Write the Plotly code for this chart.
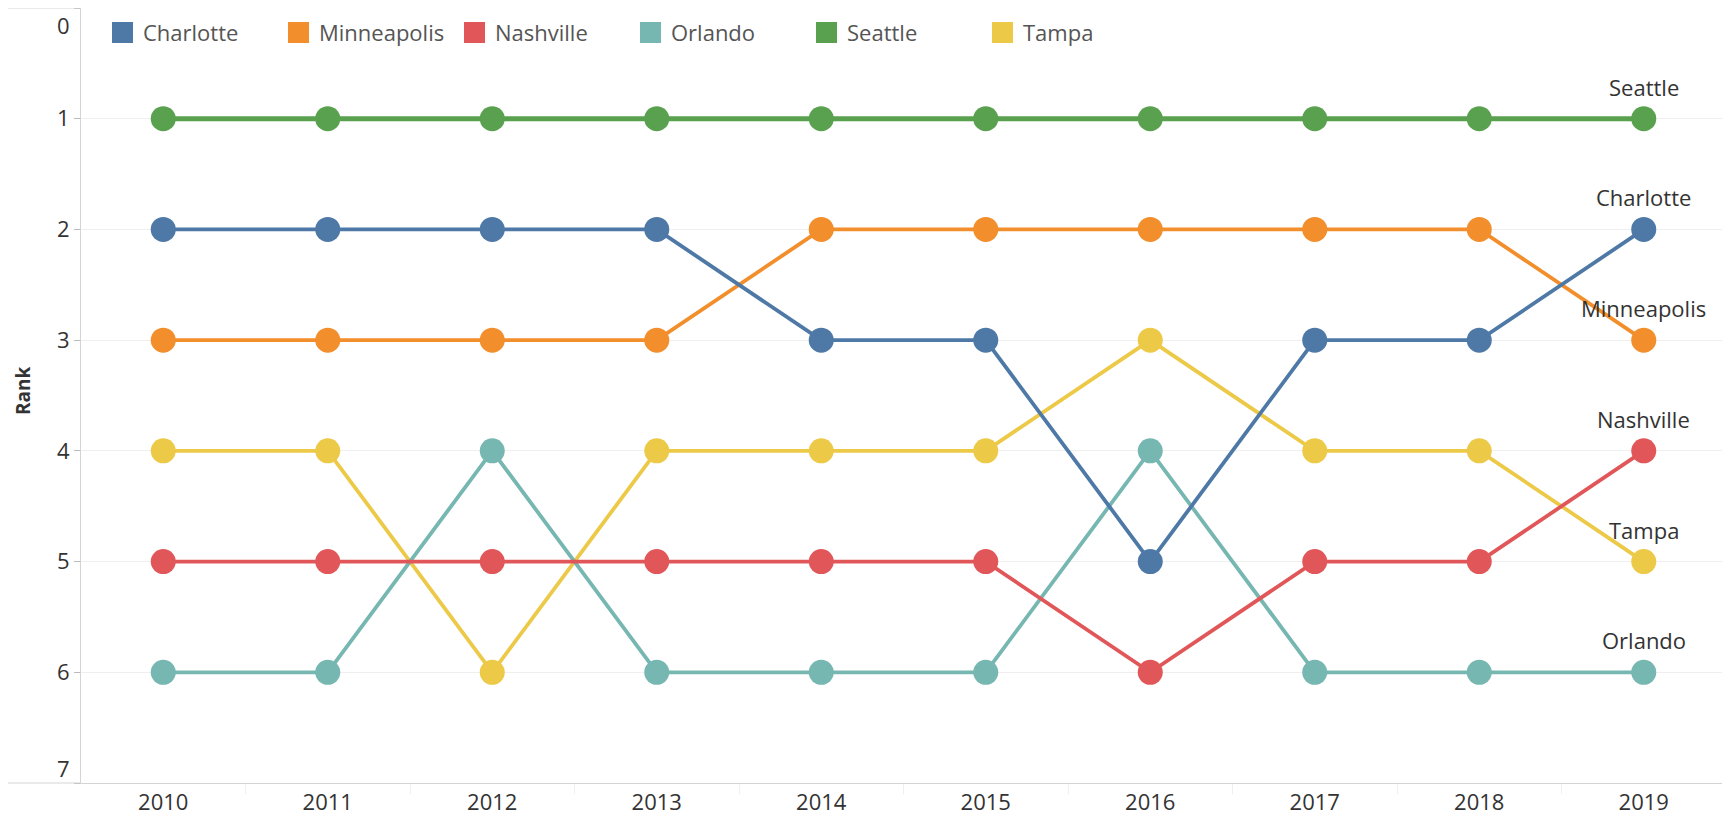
import plotly.graph_objects as go

years = [2010, 2011, 2012, 2013, 2014, 2015, 2016, 2017, 2018, 2019]
cities = ["Charlotte", "Minneapolis", "Nashville", "Orlando", "Seattle", "Tampa"]
charlotte = [2, 2, 2, 2, 3, 3, 5, 3, 3, 2]
minneapolis = [3, 3, 3, 3, 2, 2, 2, 2, 2, 3]
nashville = [5, 5, 5, 5, 5, 5, 6, 5, 5, 4]
orlando = [6, 6, 4, 6, 6, 6, 4, 6, 6, 6]
seattle = [1, 1, 1, 1, 1, 1, 1, 1, 1, 1]
tampa = [4, 4, 6, 4, 4, 4, 3, 4, 4, 5]
rank_ticks = [0, 1, 2, 3, 4, 5, 6, 7]

series = {
    "Charlotte": charlotte,
    "Minneapolis": minneapolis,
    "Nashville": nashville,
    "Orlando": orlando,
    "Seattle": seattle,
    "Tampa": tampa,
}
colors = {
    "Charlotte": "#4e79a7",
    "Minneapolis": "#f28e2b",
    "Nashville": "#e15759",
    "Orlando": "#76b7b2",
    "Seattle": "#59a14f",
    "Tampa": "#edc948",
}
draw_order = ["Tampa", "Seattle", "Orlando", "Minneapolis", "Nashville", "Charlotte"]
FONT = "Open Sans"
TXT = "#333333"
FS = 22

# figure geometry (page has an 8px body margin)
W, H = 1730, 814
ML, MR, MT, MB = 73, 12, 0, 39
PW, PH = W - ML - MR, H - MT - MB
OFF = 8


def px_x(page_x):
    return (page_x - OFF - ML) / PW


def px_y(page_y):
    return 1 - (page_y - OFF - MT) / PH


fig = go.Figure()
for c in draw_order:
    fig.add_trace(go.Scatter(
        x=years, y=series[c], mode="lines+markers", name=c, showlegend=False,
        line=dict(color=colors[c], width=5 if c == "Seattle" else 3.8),
        marker=dict(color=colors[c], size=25),
        hovertemplate=c + "<br>%{x}: rank %{y}<extra></extra>",
    ))

annotations = []
shapes = []
for c in cities:
    annotations.append(dict(
        x=years[-1], y=series[c][-1], xref="x", yref="y", text=c,
        showarrow=False, yshift=32, font=dict(family=FONT, size=FS, color=TXT),
    ))

# color legend (Tableau-style row of square swatches)
for i, c in enumerate(cities):
    left = 112 + 176 * i
    shapes.append(dict(type="rect", xref="paper", yref="paper",
                       x0=px_x(left), x1=px_x(left + 21), y0=px_y(43), y1=px_y(22),
                       fillcolor=colors[c], line=dict(width=0)))
    annotations.append(dict(x=px_x(left + 29), y=px_y(32), xref="paper", yref="paper",
                            text=c, showarrow=False, xanchor="left", yanchor="middle",
                            font=dict(family=FONT, size=FS, color="#555555")))

# edge tick labels (Tableau nudges them inside the frame)
annotations.append(dict(x=0, y=0.15, xref="paper", yref="y", text="0", showarrow=False,
                        xanchor="right", xshift=-9, font=dict(family=FONT, size=FS, color=TXT)))
annotations.append(dict(x=0, y=6.86, xref="paper", yref="y", text="7", showarrow=False,
                        xanchor="right", xshift=-9, font=dict(family=FONT, size=FS, color=TXT)))
annotations.append(dict(x=px_x(23), y=px_y(391), xref="paper", yref="paper", text="<b>Rank</b>",
                        showarrow=False, textangle=-90, xanchor="center", yanchor="middle",
                        font=dict(family=FONT, size=19, color=TXT)))

# frame lines extending into the label area
shapes.append(dict(type="line", xref="paper", yref="paper", x0=px_x(8), x1=0, y0=0, y1=0,
                   line=dict(color="#d4d4d4", width=1)))
shapes.append(dict(type="line", xref="paper", yref="paper", x0=px_x(8), x1=0, y0=1, y1=1,
                   line=dict(color="#d4d4d4", width=1)))

fig.update_layout(
    width=W, height=H,
    margin=dict(l=ML, r=MR, t=MT, b=MB),
    paper_bgcolor="white", plot_bgcolor="white",
    font=dict(family=FONT, size=FS, color=TXT),
    showlegend=False,
    annotations=annotations,
    shapes=shapes,
)
fig.update_xaxes(
    range=[2009.5, 2019.5], tickvals=years, ticktext=[str(y) for y in years],
    showgrid=False, showline=True, linecolor="#d4d4d4", mirror=True, zeroline=False,
    ticks="", tickfont=dict(family=FONT, size=FS, color=TXT),
    minor=dict(tickvals=[y + 0.5 for y in years[:-1]], ticks="outside", ticklen=10,
               tickcolor="#f0f0f0", showgrid=False),
)
fig.update_yaxes(
    range=[7, 0], tickvals=rank_ticks,
    ticktext=["" if v in (0, 7) else str(v) for v in rank_ticks],
    showgrid=True, gridcolor="#efefef", gridwidth=1,
    showline=True, linecolor="#d4d4d4", mirror=True, zeroline=False,
    ticks="outside", ticklen=6, tickcolor="#bbbbbb",
    tickfont=dict(family=FONT, size=FS, color=TXT),
)

fig.write_html("out.html")
